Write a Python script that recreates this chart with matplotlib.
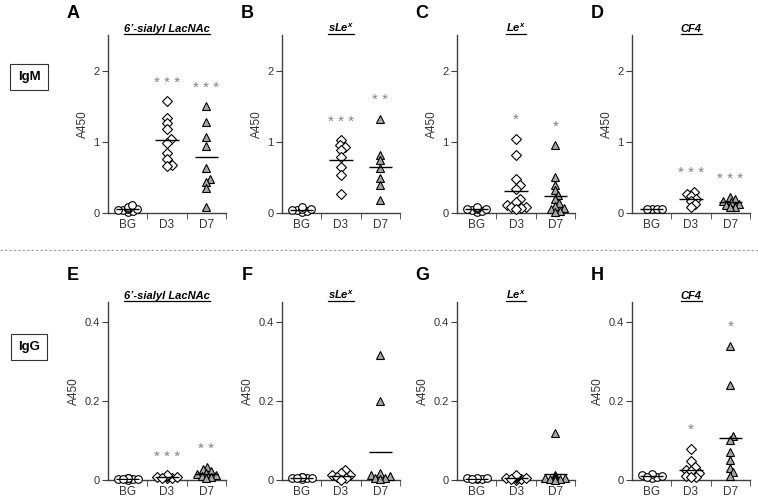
"""Serum IgM / IgG against four glycans: BG, D3 and D7 scatter panels A-H."""

import numpy as np
import matplotlib

matplotlib.use("Agg")

import matplotlib.pyplot as plt
from matplotlib.lines import Line2D

plt.rcParams["font.family"] = ["Liberation Sans", "DejaVu Sans"]

groups = ["BG", "D3", "D7"]
antigens = ["6\u2019-sialyl LacNAc", "sLe$^{\\mathregular{x}}$", "Le$^{\\mathregular{x}}$", "CF4"]

# IgM, A450 per group (BG, D3, D7)
igm_sialyl_lacnac = [
    [0.02, 0.03, 0.04, 0.04, 0.05, 0.06, 0.07, 0.09, 0.11],
    [1.57, 1.34, 1.26, 1.18, 1.04, 0.99, 0.84, 0.76, 0.67, 0.66],
    [1.50, 1.28, 1.07, 0.94, 0.63, 0.48, 0.43, 0.35, 0.09],
]
igm_slex = [
    [0.02, 0.03, 0.04, 0.04, 0.05, 0.06, 0.08],
    [1.02, 0.95, 0.93, 0.88, 0.78, 0.65, 0.54, 0.26],
    [1.32, 0.82, 0.74, 0.63, 0.49, 0.39, 0.18],
]
igm_lex = [
    [0.02, 0.03, 0.04, 0.05, 0.06, 0.07, 0.08, 0.05],
    [1.04, 0.81, 0.48, 0.39, 0.34, 0.20, 0.15, 0.11, 0.09, 0.08, 0.07, 0.06],
    [0.95, 0.50, 0.40, 0.32, 0.25, 0.19, 0.14, 0.10, 0.07, 0.05, 0.03, 0.02],
]
igm_cf4 = [
    [0.05, 0.05, 0.05, 0.05],
    [0.30, 0.27, 0.24, 0.20, 0.17, 0.13, 0.09],
    [0.22, 0.19, 0.17, 0.15, 0.13, 0.11, 0.09, 0.08],
]
igm_means = [[0.05, 1.02, 0.78], [0.04, 0.75, 0.65], [0.05, 0.31, 0.24], [0.05, 0.20, 0.15]]
igm_stars = [["", "***", "***"], ["", "***", "**"], ["", "*", "*"], ["", "***", "***"]]

# IgG, A450 per group (BG, D3, D7)
igg_sialyl_lacnac = [
    [0.001, 0.002, 0.003, 0.003, 0.004, 0.005, 0.002],
    [0.004, 0.006, 0.007, 0.008, 0.009, 0.010, 0.012, 0.006],
    [0.032, 0.027, 0.022, 0.018, 0.015, 0.012, 0.010, 0.007, 0.005],
]
igg_slex = [
    [0.003, 0.004, 0.005, 0.006, 0.007, 0.008, 0.004],
    [0.025, 0.017, 0.013, 0.012, 0.008, 0.004, 0.001],
    [0.316, 0.200, 0.018, 0.012, 0.010, 0.006, 0.005, 0.003],
]
igg_lex = [
    [0.002, 0.003, 0.004, 0.005, 0.006, 0.003],
    [0.001, 0.003, 0.004, 0.005, 0.006, 0.008, 0.010, 0.012, 0.003],
    [0.120, 0.012, 0.008, 0.006, 0.005, 0.004, 0.003, 0.002, 0.001],
]
igg_cf4 = [
    [0.006, 0.008, 0.010, 0.013, 0.016, 0.008],
    [0.079, 0.049, 0.032, 0.026, 0.024, 0.018, 0.011, 0.008, 0.007],
    [0.34, 0.24, 0.11, 0.10, 0.07, 0.05, 0.03, 0.02, 0.01],
]
igg_means = [[0.003, 0.007, 0.016], [0.005, 0.011, 0.072], [0.003, 0.005, 0.014], [0.009, 0.025, 0.105]]
igg_stars = [["", "***", "**"], ["", "", ""], ["", "", ""], ["", "*", "*"]]

MARKERS = ["o", "D", "^"]
FILLS = ["white", "white", "#a6a6a6"]
SIZES = [5.5, 4.8, 5.8]
AXCOL = "#404040"
W, H = 758, 500


def swarm(ax, values, x0, diam, max_px):
    """Loose pixel-space beeswarm (points may overlap); returns x in data units."""
    pts = ax.transData.transform(np.column_stack([np.full(len(values), x0), values]))
    cx, ys = pts[0, 0], pts[:, 1]
    order = np.argsort(ys)
    placed = []
    xs = np.zeros(len(values))
    for i in order:
        cands = [0.0]
        for px, py in placed:
            dy = ys[i] - py
            if abs(dy) < diam:
                dx = np.sqrt(diam ** 2 - dy ** 2)
                cands += [px + dx, px - dx]
        cands = [c for c in cands if abs(c) <= max_px] or [0.0]
        cands.sort(key=abs)
        best = cands[0]
        for c in cands:
            if all((c - px) ** 2 + (ys[i] - py) ** 2 >= diam ** 2 - 1e-6 for px, py in placed):
                best = c
                break
        placed.append((best, ys[i]))
        xs[i] = best
    inv = ax.transData.inverted()
    return inv.transform(np.column_stack([cx + xs, ys]))[:, 0]


def panel(fig, left_px, top_px, data, means, stars, ymax, yticks, ylabels):
    ax = fig.add_axes([left_px / W, 1 - (top_px + 178) / H, 118 / W, 178 / H])
    ax.set_xlim(0.5, 3.5)
    ax.set_ylim(0, ymax)
    for s in ["top", "right"]:
        ax.spines[s].set_visible(False)
    for s in ["left", "bottom"]:
        ax.spines[s].set_color(AXCOL)
        ax.spines[s].set_linewidth(1.0)
    ax.set_xticks([1, 2, 3])
    ax.set_xticklabels(groups, fontsize=8.5, color="#333333")
    ax.set_xticks([1.5, 2.5, 3.5], minor=True)
    ax.tick_params(axis="x", which="major", length=0, pad=4)
    ax.tick_params(axis="x", which="minor", length=4, color=AXCOL, direction="out")
    ax.set_yticks(yticks)
    ax.set_yticklabels(ylabels, fontsize=8, color="#333333")
    ax.tick_params(axis="y", length=4, color=AXCOL, direction="out", pad=2)
    ax.set_ylabel("A450", fontsize=8.5, color="#333333", labelpad=3)

    for g, vals in enumerate(data):
        xs = swarm(ax, vals, g + 1, 5.0, 10.0)
        ax.plot(xs, vals, ls="none", marker=MARKERS[g], ms=SIZES[g], mfc=FILLS[g],
                mec="black", mew=0.8, clip_on=False, zorder=3)
        ax.hlines(means[g], g + 1 - 0.3, g + 1 + 0.3, color="black", lw=1.0, zorder=4)
        if stars[g]:
            ax.text(g + 1, max(vals) + 0.105 * ymax, " ".join(stars[g]), ha="center", va="center",
                    fontsize=11, color="#808080")
    return ax


fig = plt.figure(figsize=(W / 100, H / 100), dpi=100, facecolor="white")

lefts = [108, 282, 457, 632]
letters_top = ["A", "B", "C", "D"]
letters_bot = ["E", "F", "G", "H"]
igm_sets = [igm_sialyl_lacnac, igm_slex, igm_lex, igm_cf4]
igg_sets = [igg_sialyl_lacnac, igg_slex, igg_lex, igg_cf4]

titles = []
for i, left in enumerate(lefts):
    ax1 = panel(fig, left, 35, igm_sets[i], igm_means[i], igm_stars[i], 2.5, [0, 1, 2], ["0", "1", "2"])
    ax2 = panel(fig, left, 302, igg_sets[i], igg_means[i], igg_stars[i], 0.45,
                [0, 0.2, 0.4], ["0", "0.2", "0.4"])
    for ax, letter, ly in [(ax1, letters_top[i], 13), (ax2, letters_bot[i], 276)]:
        fig.text((left - 35) / W, 1 - ly / H, letter, fontsize=13, fontweight="bold",
                 ha="center", va="center")
        t = ax.text(2.0, ax.get_ylim()[1], antigens[i], ha="center", va="baseline",
                    fontsize=8, fontweight="bold", style="italic")
        titles.append((ax, t))

# put titles just above the axis top and underline them
fig.canvas.draw()
renderer = fig.canvas.get_renderer()
for ax, t in titles:
    bb = t.get_window_extent(renderer)
    ybase = ax.transData.transform((2.0, ax.get_ylim()[1]))[1] + 3
    fig.add_artist(Line2D([bb.x0 / W, bb.x1 / W], [(ybase - 2) / H, (ybase - 2) / H],
                          color="black", lw=0.9, transform=fig.transFigure))
    t.set_transform(None)
    t.set_position((ax.transData.transform((2.0, 0))[0], ybase))

# row labels and separator
for label, cy in [("IgM", 77), ("IgG", 347)]:
    fig.text(29 / W, 1 - cy / H, label, fontsize=9.5, fontweight="bold", ha="center", va="center",
             bbox=dict(boxstyle="square,pad=0.55", fc="white", ec="#333333", lw=0.8))
fig.add_artist(Line2D([0, 1], [1 - 250 / H, 1 - 250 / H], color="#999999", lw=0.8,
                      ls=(0, (2, 2)), transform=fig.transFigure))

fig.savefig("out.png", dpi=100, facecolor="white")
